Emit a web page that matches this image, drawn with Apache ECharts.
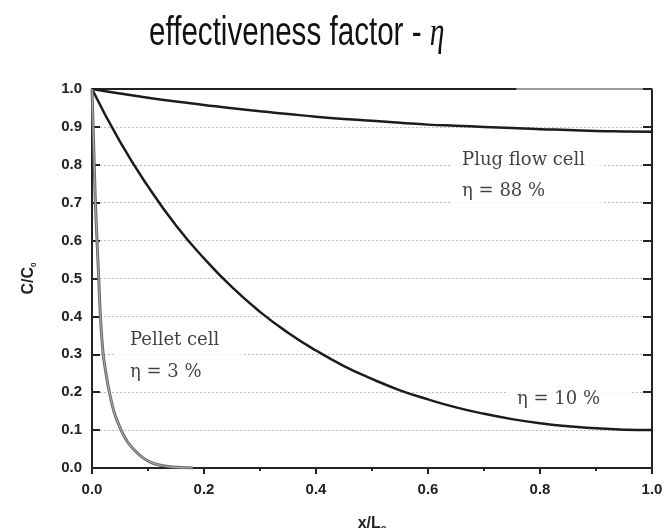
<!DOCTYPE html>
<html>
<head>
<meta charset="utf-8">
<script src="https://cdn.jsdelivr.net/npm/echarts@6/dist/echarts.min.js"></script>
<style>
html,body{margin:0;padding:0;background:#fff;}
#c{width:667px;height:528px;}
</style>
</head>
<body>
<div id="c"></div>
<script>
// ---- data ----
const xTicks = [0.0, 0.2, 0.4, 0.6, 0.8, 1.0];
const yTicks = [0.0, 0.1, 0.2, 0.3, 0.4, 0.5, 0.6, 0.7, 0.8, 0.9, 1.0];
const xGrid = [0.00,0.05,0.10,0.15,0.20,0.25,0.30,0.35,0.40,0.45,0.50,0.55,0.60,0.65,0.70,0.75,0.80,0.85,0.90,0.95,1.00];
const plugFlow = [1.000,0.988,0.977,0.967,0.958,0.949,0.941,0.934,0.927,0.921,0.916,0.911,0.906,0.903,0.900,0.897,0.894,0.892,0.889,0.888,0.887];
const tenPercent = [1.000,0.861,0.743,0.640,0.553,0.477,0.412,0.357,0.310,0.269,0.235,0.205,0.181,0.160,0.143,0.129,0.118,0.110,0.105,0.101,0.100];
const pelletX = [0.000,0.003,0.006,0.009,0.012,0.015,0.020,0.026,0.031,0.040,0.052,0.063,0.075,0.090,0.105,0.120,0.140,0.160,0.180];
const pelletY = [1.000,0.850,0.700,0.600,0.500,0.400,0.300,0.240,0.200,0.145,0.100,0.070,0.048,0.028,0.015,0.008,0.003,0.001,0.000];
const annotations = [
  {name:'plug', pos:[0.643,0.770], text:'{t|Plug flow cell}\n{t|η = 88 %}'},
  {name:'pellet', pos:[0.041,0.294], text:'{t|Pellet cell}\n{t|η = 3 %}'},
  {name:'ten', pos:[0.741,0.182], text:'{t|η = 10 %}'}
];
const titleText = 'effectiveness factor - ';
const titleSymbol = 'η';

const pair = (xs, ys) => xs.map((x,i)=>[x, ys[i]]);

const chart = echarts.init(document.getElementById('c'), null, {renderer:'canvas'});
const dark = '#222';
const labelFont = {fontFamily:'Liberation Sans, Arial, sans-serif', fontWeight:'bold', fontSize:15, color:dark};

const annSeries = annotations.map(a => ({
  type:'scatter', silent:true, symbolSize:0, z:3,
  data:[a.pos],
  label:{
    show:true, position:'inside', align:'left', verticalAlign:'middle',
    formatter:a.text,
    backgroundColor:'#fff',
    padding: a.name==='plug' ? [6,18,6,10] : (a.name==='pellet' ? [2,24,2,15] : [5,30,5,10]),
    rich:{t:{fontFamily:'DejaVu Serif, serif', fontSize:18, color:'#111', lineHeight: a.name==='pellet'?32:31}}
  }
}));

chart.setOption({
  animation:false,
  backgroundColor:'#fff',
  grid:{left:92, right:15, top:89, bottom:60, containLabel:false, outerBoundsMode:'none'},
  xAxis:[{
    type:'value', min:0, max:1, interval:0.2,
    axisLine:{show:true, onZero:false, lineStyle:{color:dark, width:2}},
    axisTick:{show:true, inside:false, length:6, lineStyle:{color:dark, width:2}},
    minorTick:{show:true, splitNumber:2, length:3, lineStyle:{color:dark, width:2}},
    splitLine:{show:false},
    axisLabel:{...labelFont, margin:14, formatter:v=>v.toFixed(1)},
    name:'{a|x/L}{s|c}', nameLocation:'middle', nameGap:46,
    nameTextStyle:{rich:{
      a:{fontFamily:'Liberation Sans, Arial, sans-serif', fontWeight:'bold', fontSize:16, color:dark},
      s:{fontFamily:'Liberation Sans, Arial, sans-serif', fontWeight:'bold', fontSize:10, color:dark, padding:[10,0,0,0]}
    }}
  },{
    type:'value', min:0, max:1, position:'top',
    axisLine:{show:true, onZero:false, lineStyle:{width:2, color:{type:'linear',x:0,y:0,x2:1,y2:0,colorStops:[
      {offset:0,color:dark},{offset:0.755,color:dark},{offset:0.756,color:'#9a9a9a'},{offset:1,color:'#9a9a9a'}]}}},
    axisTick:{show:false}, axisLabel:{show:false}, splitLine:{show:false}
  }],
  yAxis:[{
    type:'value', min:0, max:1, interval:0.1,
    axisLine:{show:true, onZero:false, lineStyle:{color:dark, width:2}},
    axisTick:{show:true, inside:true, length:8, lineStyle:{color:dark, width:2}},
    splitLine:{show:true, lineStyle:{color:'#bdbdbd', width:1, type:[2,2]}},
    axisLabel:{...labelFont, margin:10, formatter:v=>v.toFixed(1)},
    name:'{a|C/C}{s|0}', nameLocation:'middle', nameGap:54, nameRotate:90,
    nameTextStyle:{rich:{
      a:{fontFamily:'Liberation Sans, Arial, sans-serif', fontWeight:'bold', fontSize:16, color:dark},
      s:{fontFamily:'Liberation Sans, Arial, sans-serif', fontWeight:'bold', fontSize:8, color:dark, padding:[10,0,0,0]}
    }}
  },{
    type:'value', min:0, max:1, interval:0.1, position:'right',
    axisLine:{show:true, onZero:false, lineStyle:{color:dark, width:2}},
    axisTick:{show:true, inside:true, length:9, lineStyle:{color:dark, width:2}},
    axisLabel:{show:false}, splitLine:{show:false}
  }],
  graphic:[{
    type:'text', x:149, y:34, scaleX:0.74, scaleY:1,
    style:{
      text:'{a|'+titleText+'}{b|'+titleSymbol+'}',
      verticalAlign:'middle', align:'left',
      rich:{
        a:{fontFamily:'Liberation Sans, Arial, sans-serif', fontSize:40, fill:'#111'},
        b:{fontFamily:'Liberation Serif, Times New Roman, serif', fontStyle:'italic', fontSize:40, fill:'#111'}
      }
    }
  }],
  series:[
    {type:'line', name:'plug', data:pair(xGrid, plugFlow), smooth:true, showSymbol:false, z:4,
     lineStyle:{color:'#1c1c1c', width:2.5}},
    {type:'line', name:'ten', data:pair(xGrid, tenPercent), smooth:true, showSymbol:false, z:4,
     lineStyle:{color:'#1c1c1c', width:2.5}},
    {type:'line', name:'pelletOuter', data:pair(pelletX, pelletY), smooth:0.2, showSymbol:false, z:4,
     lineStyle:{color:'#666', width:3}},
    {type:'line', name:'pelletInner', data:pair(pelletX, pelletY), smooth:0.2, showSymbol:false, z:5,
     lineStyle:{color:'#aaa', width:1.1}},
    ...annSeries
  ]
});
</script>
</body>
</html>
